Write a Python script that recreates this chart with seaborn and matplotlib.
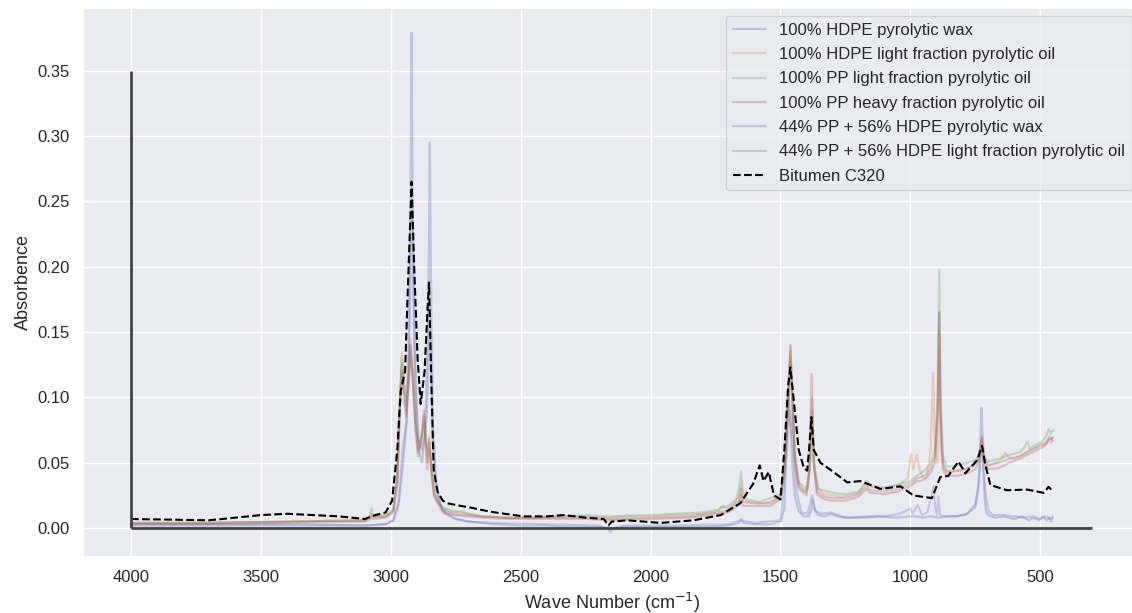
import numpy as np
import pandas as pd
import matplotlib
matplotlib.use("Agg")
import matplotlib.pyplot as plt
import seaborn as sns

# FTIR spectra: (wave number in cm^-1, absorbance) pairs for each sample
hdpe_wax = [
    (4000, 0.003), (3700, 0.003), (3400, 0.003), (3100, 0.002), (3020, 0.003), (2990, 0.006),
    (2970, 0.018), (2955, 0.045), (2940, 0.08), (2930, 0.15), (2924, 0.25), (2920, 0.379),
    (2916, 0.24), (2905, 0.11), (2892, 0.06), (2880, 0.05), (2868, 0.075), (2858, 0.14),
    (2853, 0.22), (2850, 0.295), (2846, 0.2), (2838, 0.08), (2825, 0.035), (2810, 0.018),
    (2790, 0.011), (2750, 0.007), (2700, 0.005), (2600, 0.003), (2500, 0.002), (2400, 0.002),
    (2300, 0.001), (2200, 0.001), (2165, 0.0), (2155, -0.003), (2145, 0.0), (2100, 0.001),
    (2000, 0.001), (1900, 0.001), (1800, 0.001), (1700, 0.002), (1660, 0.004), (1652, 0.007),
    (1644, 0.004), (1600, 0.003), (1540, 0.003), (1500, 0.005), (1485, 0.015), (1478, 0.06),
    (1472, 0.105), (1467, 0.095), (1462, 0.085), (1455, 0.05), (1445, 0.025), (1430, 0.013),
    (1410, 0.009), (1390, 0.009), (1380, 0.015), (1376, 0.022), (1370, 0.015), (1355, 0.01),
    (1330, 0.009), (1305, 0.011), (1280, 0.009), (1240, 0.008), (1180, 0.008), (1120, 0.009),
    (1060, 0.008), (1000, 0.009), (975, 0.009), (950, 0.008), (920, 0.009), (890, 0.008),
    (860, 0.009), (820, 0.009), (780, 0.011), (750, 0.018), (740, 0.03), (733, 0.05),
    (729, 0.075), (726, 0.092), (722, 0.07), (718, 0.04), (714, 0.022), (708, 0.012),
    (700, 0.01), (690, 0.009), (670, 0.008), (640, 0.009), (600, 0.007), (570, 0.009),
    (545, 0.006), (525, 0.008), (505, 0.006), (490, 0.009), (475, 0.006), (465, 0.008),
    (458, 0.005), (452, 0.008),
]

hdpe_light_oil = [
    (4000, 0.004), (3700, 0.004), (3400, 0.005), (3100, 0.006), (3080, 0.008), (3075, 0.011),
    (3068, 0.008), (3020, 0.009), (2990, 0.014), (2975, 0.04), (2965, 0.1), (2958, 0.135),
    (2950, 0.115), (2940, 0.1), (2932, 0.12), (2925, 0.145), (2915, 0.12), (2905, 0.085),
    (2893, 0.06), (2882, 0.065), (2872, 0.085), (2865, 0.07), (2860, 0.055), (2852, 0.07),
    (2845, 0.05), (2835, 0.03), (2820, 0.02), (2800, 0.015), (2760, 0.012), (2730, 0.013),
    (2710, 0.011), (2650, 0.009), (2550, 0.008), (2450, 0.008), (2350, 0.009), (2250, 0.009),
    (2160, 0.008), (2100, 0.009), (2000, 0.009), (1900, 0.01), (1800, 0.011), (1740, 0.013),
    (1725, 0.017), (1710, 0.015), (1680, 0.018), (1660, 0.025), (1652, 0.033), (1644, 0.022),
    (1620, 0.02), (1580, 0.019), (1540, 0.02), (1500, 0.025), (1485, 0.045), (1472, 0.09),
    (1462, 0.14), (1455, 0.11), (1445, 0.06), (1430, 0.035), (1410, 0.028), (1395, 0.03),
    (1385, 0.055), (1378, 0.09), (1370, 0.05), (1355, 0.03), (1330, 0.026), (1300, 0.025),
    (1260, 0.024), (1200, 0.027), (1170, 0.034), (1160, 0.032), (1120, 0.03), (1080, 0.031),
    (1040, 0.034), (1010, 0.038), (997, 0.057), (988, 0.045), (975, 0.056), (965, 0.045),
    (950, 0.038), (935, 0.04), (922, 0.06), (912, 0.119), (905, 0.06), (895, 0.05),
    (889, 0.15), (883, 0.06), (870, 0.045), (840, 0.043), (800, 0.044), (760, 0.047),
    (740, 0.052), (728, 0.066), (722, 0.07), (715, 0.055), (700, 0.048), (670, 0.05),
    (650, 0.053), (635, 0.058), (620, 0.054), (600, 0.053), (570, 0.056), (540, 0.06),
    (515, 0.062), (495, 0.065), (480, 0.063), (468, 0.068), (458, 0.065), (452, 0.07),
]

pp_light_oil = [
    (4000, 0.004), (3700, 0.004), (3400, 0.005), (3100, 0.006), (3080, 0.009), (3075, 0.015),
    (3068, 0.009), (3020, 0.01), (2990, 0.014), (2975, 0.04), (2965, 0.095), (2957, 0.13),
    (2950, 0.11), (2940, 0.095), (2932, 0.11), (2925, 0.135), (2915, 0.115), (2905, 0.08),
    (2895, 0.065), (2882, 0.07), (2872, 0.08), (2865, 0.065), (2858, 0.06), (2850, 0.06),
    (2840, 0.04), (2825, 0.022), (2800, 0.016), (2760, 0.013), (2720, 0.012), (2650, 0.009),
    (2550, 0.008), (2450, 0.008), (2350, 0.009), (2250, 0.01), (2160, 0.009), (2000, 0.01),
    (1900, 0.011), (1800, 0.012), (1740, 0.014), (1725, 0.016), (1700, 0.017), (1670, 0.022),
    (1658, 0.032), (1652, 0.043), (1646, 0.03), (1630, 0.022), (1580, 0.02), (1500, 0.026),
    (1485, 0.045), (1472, 0.085), (1462, 0.13), (1455, 0.1), (1445, 0.055), (1430, 0.035),
    (1400, 0.03), (1385, 0.05), (1378, 0.08), (1370, 0.045), (1355, 0.03), (1300, 0.027),
    (1250, 0.026), (1200, 0.028), (1168, 0.036), (1155, 0.033), (1100, 0.031), (1050, 0.033),
    (1000, 0.036), (975, 0.04), (960, 0.042), (940, 0.045), (920, 0.05), (905, 0.06),
    (895, 0.1), (889, 0.198), (884, 0.1), (875, 0.055), (860, 0.047), (820, 0.048),
    (780, 0.05), (750, 0.052), (735, 0.056), (725, 0.062), (715, 0.054), (700, 0.051),
    (660, 0.053), (620, 0.056), (580, 0.058), (560, 0.062), (551, 0.066), (540, 0.061),
    (515, 0.064), (495, 0.066), (478, 0.07), (468, 0.076), (460, 0.072), (452, 0.075),
]

pp_heavy_oil = [
    (4000, 0.003), (3700, 0.003), (3400, 0.004), (3100, 0.005), (3078, 0.007), (3020, 0.008),
    (2990, 0.012), (2975, 0.035), (2965, 0.09), (2958, 0.12), (2950, 0.1), (2940, 0.085),
    (2930, 0.115), (2925, 0.14), (2915, 0.11), (2905, 0.075), (2895, 0.055), (2882, 0.07),
    (2872, 0.09), (2865, 0.06), (2860, 0.045), (2852, 0.065), (2845, 0.045), (2835, 0.025),
    (2800, 0.012), (2760, 0.01), (2650, 0.008), (2550, 0.007), (2400, 0.007), (2250, 0.007),
    (2160, 0.006), (2000, 0.007), (1850, 0.008), (1740, 0.011), (1700, 0.012), (1660, 0.018),
    (1652, 0.026), (1644, 0.017), (1600, 0.017), (1540, 0.017), (1500, 0.022), (1485, 0.045),
    (1472, 0.09), (1462, 0.135), (1455, 0.1), (1445, 0.05), (1430, 0.03), (1400, 0.025),
    (1390, 0.04), (1380, 0.118), (1372, 0.05), (1360, 0.026), (1330, 0.022), (1300, 0.021),
    (1250, 0.021), (1200, 0.024), (1168, 0.03), (1155, 0.027), (1100, 0.026), (1050, 0.028),
    (1000, 0.032), (975, 0.036), (960, 0.036), (940, 0.038), (920, 0.043), (905, 0.05),
    (895, 0.09), (889, 0.165), (884, 0.085), (875, 0.045), (860, 0.04), (820, 0.04),
    (780, 0.042), (750, 0.045), (735, 0.052), (725, 0.06), (715, 0.05), (700, 0.045),
    (660, 0.046), (620, 0.05), (580, 0.053), (540, 0.057), (510, 0.06), (490, 0.062),
    (475, 0.065), (465, 0.068), (452, 0.069),
]

blend_wax = [
    (4000, 0.002), (3400, 0.002), (3100, 0.002), (3020, 0.003), (2990, 0.006), (2970, 0.02),
    (2955, 0.06), (2940, 0.08), (2930, 0.13), (2920, 0.24), (2910, 0.14), (2895, 0.07),
    (2880, 0.06), (2868, 0.07), (2858, 0.1), (2850, 0.17), (2840, 0.07), (2825, 0.03),
    (2800, 0.013), (2750, 0.007), (2700, 0.005), (2600, 0.004), (2400, 0.003), (2200, 0.002),
    (2160, -0.001), (2100, 0.002), (1900, 0.002), (1700, 0.003), (1652, 0.006), (1600, 0.004),
    (1500, 0.006), (1478, 0.05), (1465, 0.09), (1455, 0.07), (1440, 0.03), (1420, 0.012),
    (1395, 0.011), (1378, 0.025), (1365, 0.013), (1340, 0.011), (1308, 0.012), (1250, 0.008),
    (1160, 0.009), (1100, 0.009), (1040, 0.011), (1000, 0.015), (990, 0.011), (973, 0.018),
    (955, 0.01), (935, 0.012), (918, 0.025), (911, 0.032), (904, 0.015), (897, 0.01),
    (892, 0.024), (886, 0.01), (870, 0.009), (840, 0.009), (790, 0.01), (750, 0.016),
    (735, 0.035), (726, 0.07), (720, 0.05), (710, 0.025), (700, 0.013), (680, 0.01),
    (640, 0.01), (600, 0.009), (560, 0.008), (530, 0.009), (500, 0.007), (480, 0.009),
    (460, 0.007), (452, 0.009),
]

blend_light_oil = [
    (4000, 0.004), (3700, 0.004), (3400, 0.005), (3100, 0.006), (3078, 0.009), (3020, 0.009),
    (2990, 0.013), (2975, 0.038), (2965, 0.095), (2958, 0.125), (2950, 0.105), (2940, 0.09),
    (2930, 0.12), (2925, 0.14), (2915, 0.115), (2905, 0.08), (2895, 0.058), (2882, 0.068),
    (2872, 0.087), (2865, 0.065), (2860, 0.05), (2852, 0.068), (2845, 0.047), (2835, 0.027),
    (2800, 0.014), (2760, 0.011), (2650, 0.009), (2550, 0.008), (2400, 0.008), (2250, 0.008),
    (2160, 0.007), (2000, 0.008), (1850, 0.009), (1740, 0.012), (1700, 0.014), (1660, 0.021),
    (1652, 0.03), (1644, 0.02), (1600, 0.019), (1540, 0.019), (1500, 0.024), (1485, 0.045),
    (1472, 0.09), (1462, 0.14), (1455, 0.105), (1445, 0.055), (1430, 0.032), (1400, 0.027),
    (1388, 0.045), (1379, 0.1), (1371, 0.048), (1360, 0.028), (1330, 0.024), (1300, 0.023),
    (1250, 0.023), (1200, 0.026), (1168, 0.032), (1155, 0.029), (1100, 0.028), (1050, 0.03),
    (1000, 0.034), (975, 0.038), (960, 0.039), (940, 0.041), (920, 0.046), (905, 0.055),
    (895, 0.09), (889, 0.165), (884, 0.09), (875, 0.05), (860, 0.043), (820, 0.044),
    (780, 0.046), (750, 0.049), (735, 0.055), (725, 0.068), (715, 0.052), (700, 0.048),
    (660, 0.05), (620, 0.053), (580, 0.055), (540, 0.059), (510, 0.062), (490, 0.064),
    (475, 0.066), (465, 0.07), (452, 0.067),
]

bitumen_c320 = [
    (4000, 0.007), (3850, 0.0065), (3700, 0.006), (3600, 0.008), (3500, 0.01), (3400, 0.011),
    (3300, 0.01), (3200, 0.009), (3100, 0.007), (3060, 0.01), (3020, 0.012), (2995, 0.021),
    (2975, 0.06), (2962, 0.105), (2955, 0.111), (2945, 0.12), (2935, 0.18), (2920, 0.265),
    (2910, 0.2), (2897, 0.13), (2885, 0.095), (2870, 0.12), (2858, 0.17), (2853, 0.188),
    (2845, 0.12), (2835, 0.045), (2820, 0.028), (2800, 0.021), (2782, 0.019), (2730, 0.017),
    (2700, 0.016), (2615, 0.0125), (2490, 0.009), (2400, 0.009), (2335, 0.01), (2250, 0.008),
    (2180, 0.007), (2162, 0.002), (2150, 0.005), (2090, 0.006), (1962, 0.004), (1835, 0.006),
    (1730, 0.01), (1655, 0.019), (1605, 0.034), (1580, 0.048), (1565, 0.036), (1545, 0.043),
    (1525, 0.025), (1500, 0.022), (1485, 0.06), (1470, 0.11), (1462, 0.123), (1450, 0.1),
    (1430, 0.06), (1410, 0.046), (1397, 0.044), (1388, 0.065), (1381, 0.085), (1372, 0.06),
    (1346, 0.05), (1296, 0.043), (1243, 0.035), (1192, 0.036), (1115, 0.03), (1038, 0.032),
    (988, 0.025), (917, 0.023), (885, 0.039), (854, 0.04), (815, 0.051), (788, 0.042),
    (743, 0.052), (724, 0.063), (712, 0.049), (692, 0.033), (628, 0.029), (551, 0.0295),
    (487, 0.027), (468, 0.0316), (451, 0.028),
]

sample_labels = [
    "100% HDPE pyrolytic wax",
    "100% HDPE light fraction pyrolytic oil",
    "100% PP light fraction pyrolytic oil",
    "100% PP heavy fraction pyrolytic oil",
    "44% PP + 56% HDPE pyrolytic wax",
    "44% PP + 56% HDPE light fraction pyrolytic oil",
]
sample_spectra = [hdpe_wax, hdpe_light_oil, pp_light_oil, pp_heavy_oil, blend_wax, blend_light_oil]
bitumen_label = "Bitumen C320"

# reference axes drawn inside the plot
axis_wave_start = 4000
axis_wave_end = 300
axis_abs_top = 0.35

sns.set_theme(style="darkgrid")
plt.rcParams["font.family"] = ["Liberation Sans", "DejaVu Sans"]

frames = []
for label, spectrum in zip(sample_labels, sample_spectra):
    df = pd.DataFrame(spectrum, columns=["wave", "absorbance"])
    df["sample"] = label
    frames.append(df)
samples = pd.concat(frames, ignore_index=True)
bitumen = pd.DataFrame(bitumen_c320, columns=["wave", "absorbance"])

fig = plt.figure(figsize=(11.32, 6.13), dpi=100)
ax = fig.add_axes([0.0733, 0.0913, 0.934, 0.896])

palette = sns.color_palette("deep", len(sample_labels))
sns.lineplot(data=samples, x="wave", y="absorbance", hue="sample", hue_order=sample_labels,
             palette=palette, alpha=0.3, linewidth=1.6, sort=False, estimator=None, ax=ax)
sns.lineplot(data=bitumen, x="wave", y="absorbance", color="black", linestyle="--",
             linewidth=1.5, sort=False, estimator=None, label=bitumen_label, ax=ax)

ax.vlines(axis_wave_start, 0, axis_abs_top, color="#444444", linewidth=2)
ax.hlines(0, axis_wave_start, axis_wave_end, color="#444444", linewidth=2)

ax.invert_xaxis()
ax.set_xlabel("Wave Number (cm$^{-1}$)", fontsize=13)
ax.set_ylabel("Absorbence", fontsize=13)
ax.tick_params(labelsize=12)
ax.legend(loc="upper right", fontsize=12, labelspacing=0.56)

fig.savefig("out.png", dpi=100)
